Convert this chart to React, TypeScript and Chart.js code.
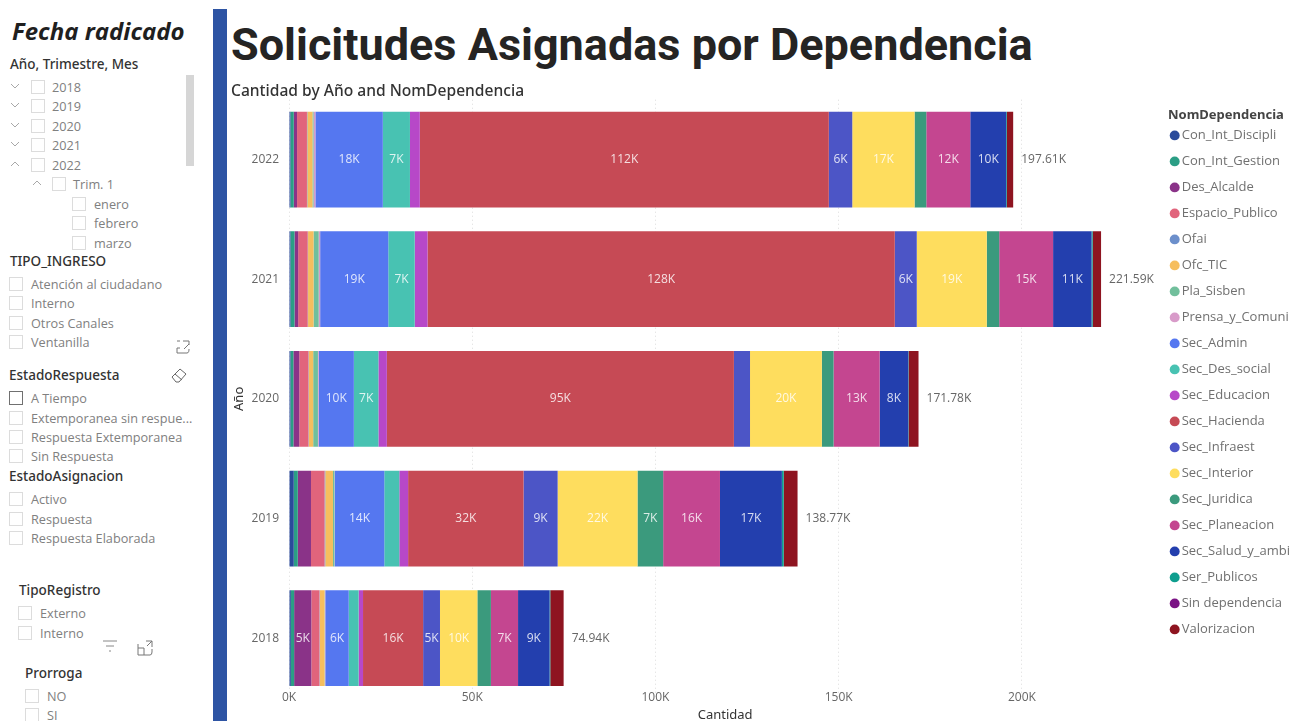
import React, { useEffect, useRef } from "react";
import { Chart, registerables } from "chart.js";

Chart.register(...registerables);

// Requests per year, one list per department, ordered from 2022 down to 2018.
const years = ["2022", "2021", "2020", "2019", "2018"];
const departments = [
  "Con_Int_Discipli", "Con_Int_Gestion", "Des_Alcalde", "Espacio_Publico", "Ofai",
  "Ofc_TIC", "Pla_Sisben", "Prensa_y_Comuni", "Sec_Admin", "Sec_Des_social",
  "Sec_Educacion", "Sec_Hacienda", "Sec_Infraest", "Sec_Interior", "Sec_Juridica",
  "Sec_Planeacion", "Sec_Salud_y_ambi", "Ser_Publicos", "Sin dependencia", "Valorizacion",
];
const departmentColors = [
  "#2A4B9B", "#2B9E85", "#8A3388", "#E1647C", "#6C8FCB",
  "#F6BE5E", "#71BF9C", "#D89BC9", "#5577F0", "#48C2B2",
  "#B748C8", "#C64A55", "#4C55C6", "#FEDD5E", "#3B9A7D",
  "#C44690", "#233FAE", "#0E9E8E", "#7B1385", "#8E1420",
];

const conIntDiscipli = [400, 400, 400, 1300, 500];
const conIntGestion = [900, 1100, 800, 1100, 900];
const desAlcalde = [900, 1000, 1600, 3600, 4700];
const espacioPublico = [2700, 2600, 2500, 3700, 2200];
const ofai = [100, 100, 100, 200, 100];
const ofcTic = [1400, 1500, 1200, 2100, 1300];
const plaSisben = [300, 1400, 1300, 400, 100];
const prensaYComuni = [500, 400, 200, 100, 100];
const secAdmin = [18400, 18600, 9600, 13500, 6400];
const secDesSocial = [7400, 7200, 6700, 4100, 2700];
const secEducacion = [2700, 3500, 2300, 2400, 1200];
const secHacienda = [111600, 127500, 94700, 31500, 16400];
const secInfraest = [6400, 6000, 4400, 9300, 4600];
const secInterior = [17000, 19100, 19600, 21800, 10200];
const secJuridica = [3200, 3400, 3200, 7000, 3700];
const secPlaneacion = [12000, 14700, 12580, 15500, 7400];
const secSaludYAmbi = [9800, 10500, 7800, 16900, 8600];
const serPublicos = [200, 300, 100, 500, 200];
const sinDependencia = [0, 0, 0, 0, 0];
const valorizacion = [1710, 2290, 2700, 3770, 3640];

const departmentValues = [
  conIntDiscipli, conIntGestion, desAlcalde, espacioPublico, ofai,
  ofcTic, plaSisben, prensaYComuni, secAdmin, secDesSocial,
  secEducacion, secHacienda, secInfraest, secInterior, secJuridica,
  secPlaneacion, secSaludYAmbi, serPublicos, sinDependencia, valorizacion,
];

const xTickValues = [0, 50000, 100000, 150000, 200000];
const xAxisMax = 238000;
const minLabelledValue = 4500;
const labelFont = "'Open Sans', 'Noto Sans', sans-serif";
const headingFont = "'Noto Sans', 'Open Sans', sans-serif";

// Writes each segment's rounded value inside it and the year total after the bar.
const barLabels = {
  id: "barLabels",
  afterDatasetsDraw(chart: any) {
    const { ctx } = chart;
    ctx.save();
    ctx.textBaseline = "middle";
    ctx.font = `12px ${labelFont}`;
    ctx.textAlign = "center";
    chart.data.datasets.forEach((dataset: any, di: number) => {
      const meta = chart.getDatasetMeta(di);
      dataset.data.forEach((value: number, i: number) => {
        if (value < minLabelledValue) return;
        const bar = meta.data[i];
        ctx.fillStyle = "rgba(255,255,255,0.82)";
        ctx.fillText(`${Math.round(value / 1000)}K`, (bar.x + bar.base) / 2, bar.y);
      });
    });
    const last = chart.getDatasetMeta(chart.data.datasets.length - 1);
    ctx.textAlign = "left";
    ctx.fillStyle = "#666666";
    years.forEach((_, i) => {
      const total = departmentValues.reduce((sum, series) => sum + series[i], 0);
      ctx.fillText(`${(total / 1000).toFixed(2)}K`, last.data[i].x + 8, last.data[i].y);
    });
    ctx.restore();
  },
};

const Text = ({ x, y, children, size = 12.7, color = "#808080", font = labelFont, weight = 400, style = {} }: any) => (
  <div
    style={{
      position: "absolute", left: x, top: y - 12, height: 24, lineHeight: "24px",
      fontSize: size, color, fontFamily: font, fontWeight: weight, whiteSpace: "nowrap", ...style,
    }}
  >
    {children}
  </div>
);

const Box = ({ x, y, size = 14, dark = false }: any) => (
  <div
    style={{
      position: "absolute", left: x, top: y - size / 2, width: size, height: size, boxSizing: "border-box",
      border: dark ? "1.5px solid #707070" : "1px solid #dcdcdc", background: "#fff",
    }}
  />
);

const Chevron = ({ x, y, up = false }: any) => (
  <svg style={{ position: "absolute", left: x - 5, top: y - 4 }} width="10" height="8">
    <path d={up ? "M1 6 L5 2 L9 6" : "M1 2 L5 6 L9 2"} fill="none" stroke="#a8a8a8" strokeWidth="1" />
  </svg>
);

const Heading = ({ x, y, children }: any) => (
  <Text x={x} y={y} size={13.5} color="#333" font={headingFont} weight={500}>
    {children}
  </Text>
);

const Option = ({ boxX, textX, y, label, dark, boxSize }: any) => (
  <>
    <Box x={boxX} y={y} dark={dark} size={boxSize} />
    <Text x={textX} y={y}>{label}</Text>
  </>
);

const yearRows: [string, number][] = [["2018", 87], ["2019", 106], ["2020", 126], ["2021", 145], ["2022", 165]];
const monthRows: [string, number][] = [["enero", 204], ["febrero", 223], ["marzo", 243]];
const ingresoRows: [string, number][] = [["Atención al ciudadano", 284], ["Interno", 303], ["Otros Canales", 323], ["Ventanilla", 342]];
const respuestaRows: [string, number][] = [["A Tiempo", 398], ["Extemporanea sin respue...", 418], ["Respuesta Extemporanea", 437], ["Sin Respuesta", 456]];
const asignacionRows: [string, number][] = [["Activo", 499], ["Respuesta", 519], ["Respuesta Elaborada", 538]];
const registroRows: [string, number][] = [["Externo", 613], ["Interno", 633]];
const prorrogaRows: [string, number][] = [["NO", 696], ["SI", 715]];

const Sidebar = () => (
  <>
    <Text x={12} y={31} size={24} color="#1f1f1f" weight={700} style={{ fontStyle: "italic" }}>Fecha radicado</Text>
    <Heading x={10} y={64}>Año, Trimestre, Mes</Heading>
    {yearRows.map(([label, y]) => (
      <React.Fragment key={label}>
        <Chevron x={15} y={y - 1} up={label === "2022"} />
        <Option boxX={31} textX={52} y={y} label={label} />
      </React.Fragment>
    ))}
    <div style={{ position: "absolute", left: 186, top: 75, width: 8, height: 91, background: "#d6d6d6" }} />
    <Chevron x={37} y={183} up />
    <Option boxX={52} textX={73} y={184} label="Trim. 1" />
    {monthRows.map(([label, y]) => <Option key={label} boxX={72} textX={94} y={y} label={label} />)}
    <div style={{ position: "absolute", left: 60, top: 250, width: 120, height: 4, background: "#fff" }} />
    <Heading x={10} y={261}>TIPO_INGRESO</Heading>
    {ingresoRows.map(([label, y]) => <Option key={label} boxX={9} textX={31} y={y} label={label} />)}
    <Heading x={9} y={375}>EstadoRespuesta</Heading>
    {respuestaRows.map(([label, y], i) => <Option key={label} boxX={9} textX={31} y={y} label={label} dark={i === 0} />)}
    <Heading x={9} y={476}>EstadoAsignacion</Heading>
    {asignacionRows.map(([label, y]) => <Option key={label} boxX={9} textX={31} y={y} label={label} />)}
    <Heading x={19} y={590}>TipoRegistro</Heading>
    {registroRows.map(([label, y]) => <Option key={label} boxX={18} textX={40} y={y} label={label} />)}
    <Heading x={25} y={673}>Prorroga</Heading>
    {prorrogaRows.map(([label, y]) => <Option key={label} boxX={25} textX={47} y={y} label={label} />)}

    {/* Toolbar glyphs of the filter panel */}
    <svg style={{ position: "absolute", left: 175, top: 339 }} width="16" height="16" fill="none" stroke="#777" strokeWidth="1">
      <path d="M2 2 H5 M8 2 H14 V6 M14 5 L9 10 M2 9 V14 H12 C14 14 14 11 14 10 M2 9 H5" />
    </svg>
    <svg style={{ position: "absolute", left: 170, top: 367 }} width="18" height="18" fill="none" stroke="#666" strokeWidth="1">
      <path d="M2 10 L10 2 L16 7 L9 15 H6 Z M5 7 L12 13" />
    </svg>
    <svg style={{ position: "absolute", left: 102, top: 638 }} width="16" height="16" fill="none" stroke="#888" strokeWidth="1">
      <path d="M1 3 H15 M4 8 H12 M7 13 H9" />
    </svg>
    <svg style={{ position: "absolute", left: 137, top: 640 }} width="17" height="17" fill="none" stroke="#777" strokeWidth="1">
      <path d="M1 4 V15 H13 Q15 15 15 12 V9 M1 8 H7 V15 M9 1 H15 V7 M15 1 L10 6" />
    </svg>
  </>
);

export default function App() {
  const canvasRef = useRef<HTMLCanvasElement>(null);

  useEffect(() => {
    const chart = new Chart(canvasRef.current as HTMLCanvasElement, {
      type: "bar",
      data: {
        labels: years,
        datasets: departments.map((label, i) => ({
          label,
          data: departmentValues[i],
          backgroundColor: departmentColors[i],
          borderWidth: 0,
          barPercentage: 0.8,
          categoryPercentage: 1,
        })),
      },
      plugins: [barLabels],
      options: {
        indexAxis: "y",
        responsive: false,
        animation: false,
        layout: { padding: { left: 3, right: 3, top: 0, bottom: 0 } },
        scales: {
          x: {
            stacked: true,
            min: 0,
            max: xAxisMax,
            afterBuildTicks: (axis: any) => { axis.ticks = xTickValues.map((value) => ({ value })); },
            grid: { color: "#dcdcdc", drawTicks: false, lineWidth: 1 },
            border: { display: false, dash: [1, 3] },
            ticks: {
              mirror: true,
              padding: -7,
              maxRotation: 0,
              color: "#666666",
              font: { family: labelFont, size: 12 },
              callback: (value: any) => `${value / 1000}K`,
            },
            title: {
              display: true,
              text: "Cantidad",
              color: "#333333",
              padding: { top: 0, bottom: -2 },
              font: { family: headingFont, size: 13 },
            },
            afterFit: (axis: any) => { axis.height = 23; },
          },
          y: {
            stacked: true,
            grid: { display: false, drawTicks: false },
            border: { display: false },
            ticks: { padding: 10, color: "#666666", font: { family: labelFont, size: 12 } },
            title: {
              display: true,
              text: "Año",
              color: "#333333",
              padding: { top: 0, bottom: 0 },
              font: { family: headingFont, size: 13 },
            },
            afterFit: (axis: any) => { axis.width = 58; },
          },
        },
        plugins: {
          tooltip: { enabled: false },
          title: {
            display: true,
            text: "Cantidad by Año and NomDependencia",
            align: "start",
            color: "#333333",
            padding: { top: 82, bottom: -1 },
            font: { family: headingFont, size: 15.6, weight: "500", lineHeight: 1.2 },
          },
          legend: {
            position: "right",
            align: "start",
            title: {
              display: true,
              text: "\u00a0\u00a0NomDependencia",
              position: "start",
              color: "#444444",
              padding: { top: 109, bottom: -8.7 },
              font: { family: headingFont, size: 13, weight: "bold" },
            },
            labels: {
              usePointStyle: true,
              pointStyle: "circle",
              boxHeight: 7,
              boxWidth: 1,
              padding: 13,
              color: "#707070",
              font: { family: labelFont, size: 13 },
            },
          },
        },
      },
    } as any);
    return () => chart.destroy();
  }, []);

  return (
    <div style={{ position: "fixed", left: 0, top: 0, width: 1303, height: 721, overflow: "hidden", background: "#fff" }}>
      <Sidebar />
      <div style={{ position: "absolute", left: 213, top: 9, width: 14, height: 712, background: "#2E54A4" }} />
      <Text x={231} y={45} size={45} color="#252423" font="Roboto, 'Noto Sans', sans-serif" weight={700}>Solicitudes Asignadas por Dependencia</Text>
      <canvas ref={canvasRef} width={1075} height={721} style={{ position: "absolute", left: 228, top: 0, display: "block" }} />
    </div>
  );
}
